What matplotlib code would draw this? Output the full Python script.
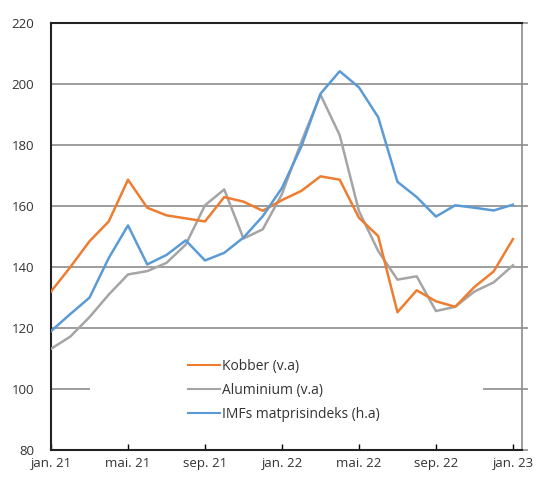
import matplotlib
matplotlib.use("Agg")
import matplotlib.pyplot as plt
from matplotlib.patches import Rectangle

plt.rcParams["font.family"] = ["Open Sans", "DejaVu Sans"]

# manedlige observasjoner, jan. 21 - jan. 23
maaneder = list(range(25))
tick_pos = [0, 4, 8, 12, 16, 20, 24]
tick_lab = ["jan. 21", "mai. 21", "sep. 21", "jan. 22", "mai. 22", "sep. 22", "jan. 23"]

kobber = [132, 140, 148.5, 155, 168.7, 159.5, 157, 156, 155, 163, 161.5, 158.5,
          162, 165, 169.8, 168.7, 156.2, 150.2, 125.2, 132.4, 128.8, 127, 133.5, 138.6, 149.2]
aluminium = [113.2, 117.2, 123.6, 131, 137.6, 138.7, 141.4, 147.4, 160.3, 165.5, 149.4, 152.4,
             164, 181, 196.6, 183.3, 158.4, 145.3, 135.9, 137, 125.6, 127, 132, 135, 140.6]
imf = [119, 124.6, 130, 143, 153.7, 140.9, 144, 148.8, 142.2, 144.7, 149.7, 156.7,
       166, 179.5, 196.9, 204.3, 199, 189.2, 168, 163, 156.6, 160.3, 159.5, 158.6, 160.5]

fig = plt.figure(figsize=(5.37, 4.78), dpi=100)
ax = fig.add_axes([0.095, 0.0586, 0.877, 0.8925])

ax.plot(maaneder, kobber, color="#ED7D31", lw=1.8, label="Kobber (v.a)", zorder=4)
ax.plot(maaneder, aluminium, color="#A5A5A5", lw=1.8, label="Aluminium (v.a)", zorder=3)
ax.plot(maaneder, imf, color="#5B9BD5", lw=1.8, label="IMFs matprisindeks (h.a)", zorder=4)

ax.set_ylim(80, 220)
ax.set_yticks(range(80, 221, 20))
ax.set_xlim(0, 24.47)
ax.set_xticks(tick_pos)
ax.set_xticklabels(tick_lab)

ax.grid(axis="y", color="#8c8c8c", lw=1.2, zorder=1)
ax.set_axisbelow(True)
# hvit bakgrunn bak legenden (kutter 100-linja)
ax.add_patch(Rectangle((0.083, 0.06), 0.834, 0.21, transform=ax.transAxes,
                       facecolor="white", edgecolor="none", zorder=2))

ax.tick_params(axis="x", direction="in", length=4, width=1, color="black",
               labelsize=9.5, pad=5)
ax.tick_params(axis="y", left=False, right=True, direction="out", length=4,
               width=1.2, color="#8c8c8c", labelsize=9.5, pad=8)
ax.tick_params(axis="both", labelcolor="#333333")

for s in ["left", "bottom", "top"]:
    ax.spines[s].set_color("#222222")
    ax.spines[s].set_linewidth(1.5)
ax.spines["right"].set_color("#8c8c8c")
ax.spines["right"].set_linewidth(1.2)

leg = ax.legend(loc="upper left", bbox_to_anchor=(0.291, 0.213), frameon=False,
                fontsize=10, handlelength=2.3, handletextpad=0.15, labelspacing=0.65,
                borderpad=0, borderaxespad=0, labelcolor="#333333")
for h in leg.get_lines():
    h.set_linewidth(1.5)

fig.savefig("out.png", dpi=100)
